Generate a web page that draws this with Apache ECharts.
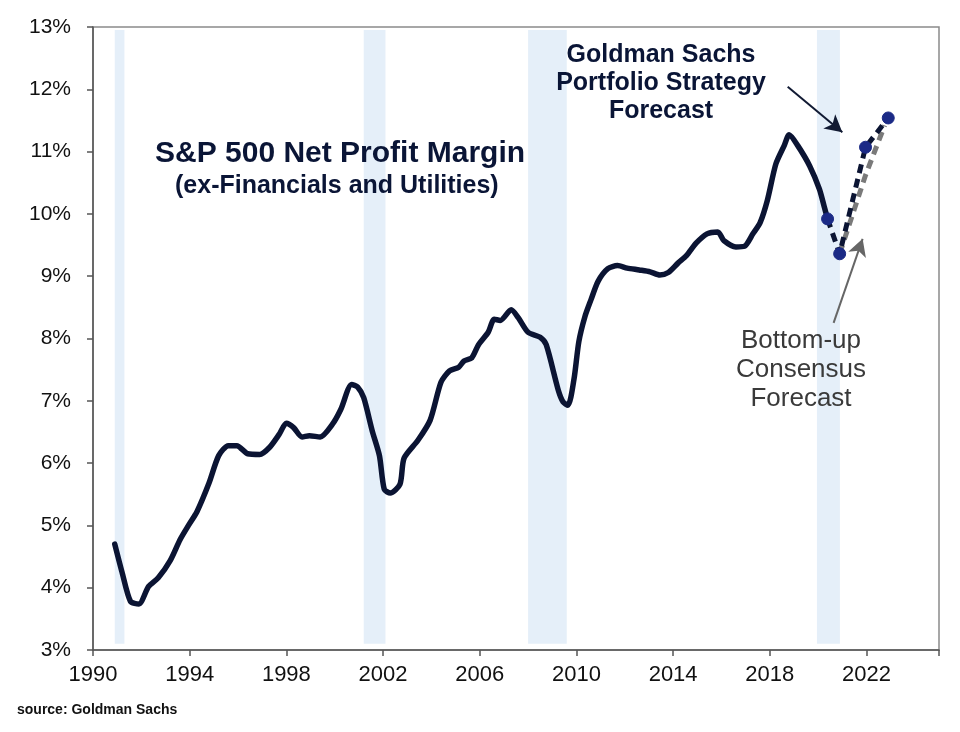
<!DOCTYPE html>
<html>
<head>
<meta charset="utf-8">
<script src="https://cdn.jsdelivr.net/npm/echarts@6/dist/echarts.min.js"></script>
<style>
  html, body { margin: 0; padding: 0; background: #ffffff; }
  #chart { width: 960px; height: 732px; }
</style>
</head>
<body>
<div id="chart"></div>
<script>
// ---- data ----
const histYears = [1990.9,1991.2,1991.55,1991.9,1992.3,1992.7,1993.2,1993.6,1993.95,1994.3,1994.8,1995.2,1995.6,1995.95,1996.4,1996.9,1997.3,1997.7,1998.0,1998.3,1998.65,1998.95,1999.4,1999.9,2000.25,2000.7,2000.95,2001.2,2001.55,2001.85,2002.05,2002.3,2002.7,2002.87,2003.45,2003.95,2004.4,2004.75,2005.13,2005.35,2005.67,2005.95,2006.35,2006.6,2006.85,2007.3,2007.6,2008.0,2008.5,2008.75,2009.25,2009.45,2009.65,2009.9,2010.1,2010.35,2010.6,2010.9,2011.3,2011.7,2012.1,2012.6,2013.05,2013.45,2013.8,2014.2,2014.55,2014.95,2015.4,2015.85,2016.1,2016.6,2016.95,2017.3,2017.6,2017.9,2018.25,2018.6,2018.8,2019.15,2019.65,2020.05,2020.25,2020.39];
const histValues = [4.70,4.25,3.78,3.74,4.02,4.16,4.44,4.77,5.00,5.22,5.68,6.12,6.28,6.28,6.15,6.14,6.25,6.46,6.64,6.57,6.42,6.44,6.42,6.62,6.86,7.26,7.22,7.05,6.52,6.12,5.58,5.52,5.66,6.08,6.37,6.69,7.30,7.48,7.54,7.64,7.69,7.90,8.10,8.31,8.29,8.46,8.33,8.10,8.02,7.90,7.17,6.98,6.93,7.35,7.95,8.35,8.62,8.92,9.12,9.17,9.13,9.10,9.07,9.02,9.06,9.21,9.33,9.53,9.68,9.71,9.57,9.47,9.48,9.68,9.86,10.22,10.80,11.10,11.27,11.10,10.77,10.40,10.12,9.92];

const gsYears = [2020.39, 2020.89, 2021.96, 2022.9];
const gsValues = [9.92, 9.36, 11.07, 11.54];

const consYears = [2020.89, 2021.96, 2022.75];
const consValues = [9.36, 10.62, 11.42];

// recession shading [start, end] in years
const recessions = [[1990.9, 1991.3], [2001.2, 2002.1], [2008.0, 2009.6], [2019.95, 2020.9]];

const yTicks = [3, 13, 1];          // min, max, interval (percent)
const xTicks = [1990, 2025, 4];     // min, max, interval (years)

// annotation arrows: [fromYear, fromValue, toYear, toValue]
const gsArrow = [2018.74, 12.04, 2021.0, 11.31];
const consArrow = [2020.64, 8.25, 2021.84, 9.6];

const pairs = (xs, ys) => xs.map((x, i) => [x, ys[i]]);

const FONT = "'Liberation Sans', Arial, sans-serif";
const NAVY = '#0b1433';
const TXT = '#0a1536';

const chart = echarts.init(document.getElementById('chart'), null, { renderer: 'canvas' });

function arrowLine(a, color) {
  return [
    { coord: [a[0], a[1]], symbol: 'none', symbolSize: 0, lineStyle: { color: color, width: 2, type: 'solid' } },
    { coord: [a[2], a[3]], symbol: 'arrow', symbolSize: [14, 17], itemStyle: { color: color }, lineStyle: { color: color, width: 2, type: 'solid' } }
  ];
}

function centeredLines(lines, cx, y0, lh, font, fill) {
  return lines.map((t, i) => ({
    type: 'text', z: 100, x: cx, y: y0 + i * lh,
    style: { text: t, font: font, fill: fill, textAlign: 'center', align: 'center', textVerticalAlign: 'middle', verticalAlign: 'middle' }
  }));
}

const option = {
  backgroundColor: '#ffffff',
  animation: false,
  grid: {
    left: 93, right: 21, top: 27, bottom: 82,
    show: true, borderColor: '#8a8a8a', borderWidth: 1.5, backgroundColor: 'transparent'
  },
  xAxis: {
    type: 'value',
    min: xTicks[0], max: xTicks[1], interval: xTicks[2],
    axisLine: { show: true, lineStyle: { color: '#555', width: 1.5 } },
    axisTick: { show: true, inside: false, length: 6, lineStyle: { color: '#555', width: 1.5 } },
    axisLabel: {
      margin: 14, color: '#111', fontSize: 22, fontFamily: FONT,
      formatter: v => ((v - xTicks[0]) % xTicks[2] === 0 && v < xTicks[1]) ? String(v) : ''
    },
    splitLine: { show: false }
  },
  yAxis: {
    type: 'value',
    min: yTicks[0], max: yTicks[1], interval: yTicks[2],
    axisLine: { show: true, lineStyle: { color: '#555', width: 1.5 } },
    axisTick: { show: true, inside: false, length: 6, lineStyle: { color: '#555', width: 1.5 } },
    axisLabel: { margin: 22, color: '#111', fontSize: 21, fontFamily: FONT, formatter: '{value}%' },
    splitLine: { show: false }
  },
  series: [
    {
      name: 'Net Profit Margin',
      type: 'line',
      data: pairs(histYears, histValues),
      smooth: 0.25,
      showSymbol: false,
      lineStyle: { color: NAVY, width: 5.5, cap: 'round', join: 'round' },
      z: 5,
      markArea: {
        silent: true,
        itemStyle: { color: '#e5eff9' },
        data: recessions.map(r => [{ xAxis: r[0], yAxis: 3.1 }, { xAxis: r[1], yAxis: 12.95 }])
      },
      markLine: {
        silent: true,
        symbol: ['none', 'arrow'],
        symbolSize: 16,
        label: { show: false },
        emphasis: { disabled: true },
        data: [arrowLine(gsArrow, '#111a33'), arrowLine(consArrow, '#666666')]
      }
    },
    {
      name: 'Bottom-up Consensus Forecast',
      type: 'line',
      data: pairs(consYears, consValues),
      showSymbol: false,
      lineStyle: { color: '#7a7a7a', width: 5, type: [9, 6] },
      z: 4
    },
    {
      name: 'Goldman Sachs Forecast',
      type: 'line',
      data: pairs(gsYears, gsValues),
      symbol: 'circle',
      symbolSize: 12,
      itemStyle: { color: '#1b2a86', borderColor: '#1b2a86' },
      lineStyle: { color: NAVY, width: 5, type: [9, 6] },
      z: 6
    }
  ],
  graphic: [
    { type: 'text', z: 100, left: 155, top: 139, style: { text: 'S&P 500 Net Profit Margin', font: "bold 30px " + FONT, fill: TXT } },
    { type: 'text', z: 100, left: 175, top: 174, style: { text: '(ex-Financials and Utilities)', font: "bold 25px " + FONT, fill: TXT } }
  ]
  .concat(centeredLines(['Goldman Sachs', 'Portfolio Strategy', 'Forecast'], 661, 55, 28, "bold 25px " + FONT, TXT))
  .concat(centeredLines(['Bottom-up', 'Consensus', 'Forecast'], 801, 341, 29, "26px " + FONT, '#3a3a3a'))
  .concat([{ type: 'text', z: 100, left: 17, top: 703, style: { text: 'source: Goldman Sachs', font: "bold 14px " + FONT, fill: '#111' } }])
};
chart.setOption(option);
</script>
</body>
</html>
